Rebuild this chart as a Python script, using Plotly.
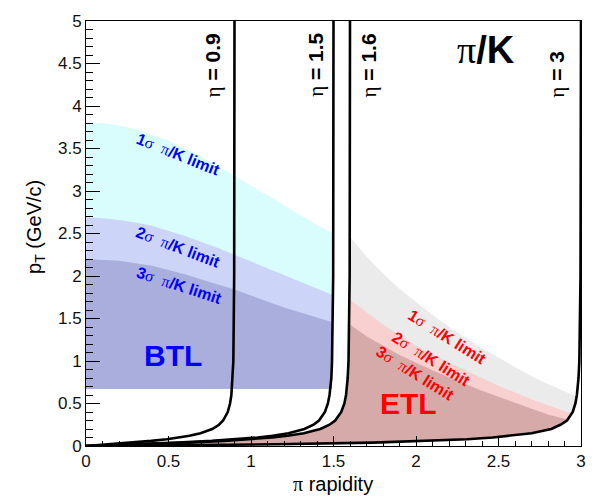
import plotly.graph_objects as go

# ---------------- data ----------------
# pT samples for the fixed-pseudorapidity curves
curve_pt = [0, 0.01, 0.02, 0.04, 0.06, 0.08, 0.10, 0.12, 0.15, 0.20, 0.25,
            0.30, 0.40, 0.50, 0.60, 0.80, 1.0, 2.0, 5.0]
eta09_y = [0, 0.073, 0.145, 0.279, 0.395, 0.490, 0.567, 0.627, 0.694, 0.765,
           0.806, 0.831, 0.859, 0.873, 0.881, 0.889, 0.893, 0.898, 0.900]
eta15_y = [0, 0.151, 0.298, 0.557, 0.764, 0.922, 1.041, 1.131, 1.227, 1.324,
           1.379, 1.412, 1.448, 1.466, 1.476, 1.487, 1.491, 1.498, 1.500]
eta16_y = [0, 0.169, 0.331, 0.615, 0.837, 1.004, 1.128, 1.221, 1.320, 1.420,
           1.476, 1.510, 1.547, 1.566, 1.576, 1.586, 1.591, 1.598, 1.600]
eta3_y = [0, 0.665, 1.150, 1.739, 2.084, 2.309, 2.464, 2.575, 2.700, 2.820,
          2.875, 2.915, 2.950, 2.966, 2.975, 2.985, 2.990, 2.997, 3.000]

# BTL pi/K separation limits
btl_y = [0, 0.1, 0.2, 0.3, 0.4, 0.5, 0.6, 0.7, 0.8, 0.9, 1.0, 1.1, 1.2, 1.3, 1.4, 1.49]
btl_1s = [3.81, 3.80, 3.77, 3.73, 3.66, 3.59, 3.50, 3.40, 3.29, 3.18, 3.07, 2.95, 2.83, 2.71, 2.60, 2.51]
btl_2s = [2.69, 2.68, 2.66, 2.63, 2.59, 2.53, 2.47, 2.40, 2.33, 2.25, 2.17, 2.09, 2.01, 1.93, 1.85, 1.78]
btl_3s = [2.20, 2.19, 2.18, 2.15, 2.12, 2.07, 2.02, 1.96, 1.90, 1.84, 1.77, 1.70, 1.63, 1.57, 1.51, 1.46]
btl_min_pt = 0.67

# ETL pi/K separation limits
etl1_y = [1.60, 1.70, 1.80, 1.90, 2.00, 2.10, 2.20, 2.30, 2.40, 2.50, 2.60, 2.70, 2.80, 2.90, 2.975]
etl1_pt = [2.46, 2.23, 2.03, 1.85, 1.69, 1.54, 1.40, 1.27, 1.15, 1.04, 0.93, 0.82, 0.73, 0.64, 0.58]
etl2_y = [1.60, 1.70, 1.80, 1.90, 2.00, 2.10, 2.20, 2.30, 2.40, 2.50, 2.60, 2.70, 2.80, 2.90, 2.948]
etl2_pt = [1.72, 1.57, 1.43, 1.30, 1.18, 1.08, 0.98, 0.89, 0.80, 0.71, 0.63, 0.55, 0.48, 0.41, 0.38]
etl3_y = [1.60, 1.70, 1.80, 1.90, 2.00, 2.10, 2.20, 2.30, 2.40, 2.50, 2.60, 2.70, 2.80, 2.90, 2.92]
etl3_pt = [1.43, 1.29, 1.18, 1.07, 0.98, 0.89, 0.81, 0.73, 0.65, 0.58, 0.51, 0.44, 0.37, 0.32, 0.31]

x_ticks = [0, 0.5, 1, 1.5, 2, 2.5, 3]
y_ticks = [0, 0.5, 1, 1.5, 2, 2.5, 3, 3.5, 4, 4.5, 5]

SANS = "Liberation Sans, Arial, Helvetica, sans-serif"

fig = go.Figure()

# ---------------- BTL bands ----------------
for lim, col in [(btl_1s, "#d9fdfd"), (btl_2s, "#ccd5f8"), (btl_3s, "#aaaedd")]:
    xs = list(btl_y) + [btl_y[-1], btl_y[0]]
    ys = list(lim) + [btl_min_pt, btl_min_pt]
    fig.add_trace(go.Scatter(x=xs, y=ys, fill="toself", fillcolor=col,
                             mode="lines", line=dict(width=0), hoverinfo="skip",
                             showlegend=False))

# ---------------- ETL bands ----------------
for lx, lp, col in [(etl1_y, etl1_pt, "#ebebeb"), (etl2_y, etl2_pt, "#f8d0d0"),
                    (etl3_y, etl3_pt, "#d7aaaa")]:
    left = [(x, p) for x, p in zip(eta16_y, curve_pt) if p < lp[0]]
    right = [(x, p) for x, p in zip(eta3_y, curve_pt) if p < lp[-1]][::-1]
    xs = [a for a, _ in left] + list(lx) + [a for a, _ in right]
    ys = [b for _, b in left] + list(lp) + [b for _, b in right]
    fig.add_trace(go.Scatter(x=xs, y=ys, fill="toself", fillcolor=col,
                             mode="lines", line=dict(width=0), hoverinfo="skip",
                             showlegend=False))

# ---------------- eta curves ----------------
for ys in [eta09_y, eta15_y, eta16_y, eta3_y]:
    fig.add_trace(go.Scatter(x=ys, y=curve_pt, mode="lines",
                             line=dict(color="black", width=2.6),
                             hoverinfo="skip", showlegend=False))

# ---------------- annotations ----------------
def ann(x, y, text, size, color="black", angle=0, family=SANS):
    fig.add_annotation(x=x, y=y, xref="x", yref="y", text=text, showarrow=False,
                       textangle=angle, font=dict(size=size, color=color, family=family),
                       xanchor="center", yanchor="middle")

sig = '<span style="font-family:Liberation Serif">σ</span>'
pi = '<span style="font-family:Liberation Serif">π</span>'

def lim_text(n):
    return f"<b>{n}</b>{sig}  {pi}<b>/K limit</b>"

ann(0.560, 3.43, lim_text(1), 16, "#0000ff", 22)
ann(0.563, 2.34, lim_text(2), 16, "#0000ff", 21)
ann(0.566, 1.89, lim_text(3), 16, "#0000ff", 18)
ann(0.527, 1.06, "<b>BTL</b>", 30, "#0000ff")

ann(2.193, 1.28, lim_text(1), 16, "#ff0000", 32)
ann(2.096, 1.02, lim_text(2), 16, "#ff0000", 32)
ann(1.997, 0.856, lim_text(3), 16, "#ff0000", 32)
ann(1.952, 0.495, "<b>ETL</b>", 30, "#ff0000")

eta = '<span style="font-family:Liberation Serif">η</span>'
ann(0.771, 4.48, f"{eta} <b>= 0.9</b>", 21, angle=-90)
ann(1.398, 4.48, f"{eta} <b>= 1.5</b>", 21, angle=-90)
ann(1.717, 4.48, f"{eta} <b>= 1.6</b>", 21, angle=-90)
ann(2.849, 4.37, f"{eta} <b>= 3</b>", 21, angle=-90)

ann(2.425, 4.66, f'{pi}<b>/K</b>', 38)

# axis titles
fig.add_annotation(x=(334 - 86) / 498, y=(446 - 485) / 434, xref="paper", yref="paper",
                   text=f'{pi} rapidity', showarrow=False,
                   xanchor="center", yanchor="middle",
                   font=dict(size=20, color="black", family=SANS))
fig.add_annotation(x=(35 - 86) / 498, y=(446 - 222) / 434, xref="paper", yref="paper",
                   text="p<sub>T</sub> (GeV/c)", showarrow=False, textangle=-90,
                   xanchor="center", yanchor="middle",
                   font=dict(size=20, color="black", family=SANS))

fig.update_layout(
    width=598, height=498,
    margin=dict(l=86, r=14, t=12, b=52),
    paper_bgcolor="white", plot_bgcolor="white",
    font=dict(family=SANS, size=17, color="black"),
    showlegend=False,
)
fig.update_xaxes(range=[0, 3], tickvals=x_ticks, ticktext=[f"{v:g}" for v in x_ticks],
                 ticks="inside", ticklen=10, tickwidth=1, tickcolor="black",
                 minor=dict(dtick=0.1, ticks="inside", ticklen=5, tickcolor="black", tickwidth=1),
                 showline=True, linecolor="black", linewidth=1, mirror=True,
                 showgrid=False, zeroline=False,
                 tickfont=dict(size=17, family=SANS, color="#111"))
fig.update_yaxes(range=[0, 5], tickvals=y_ticks, ticktext=[f"{v:g}" for v in y_ticks],
                 ticks="inside", ticklen=14, tickwidth=1, tickcolor="black",
                 minor=dict(dtick=0.1, ticks="inside", ticklen=7, tickcolor="black", tickwidth=1),
                 showline=True, linecolor="black", linewidth=1, mirror=True,
                 showgrid=False, zeroline=False,
                 tickfont=dict(size=17, family=SANS, color="#111"))

fig.write_html("out.html")
